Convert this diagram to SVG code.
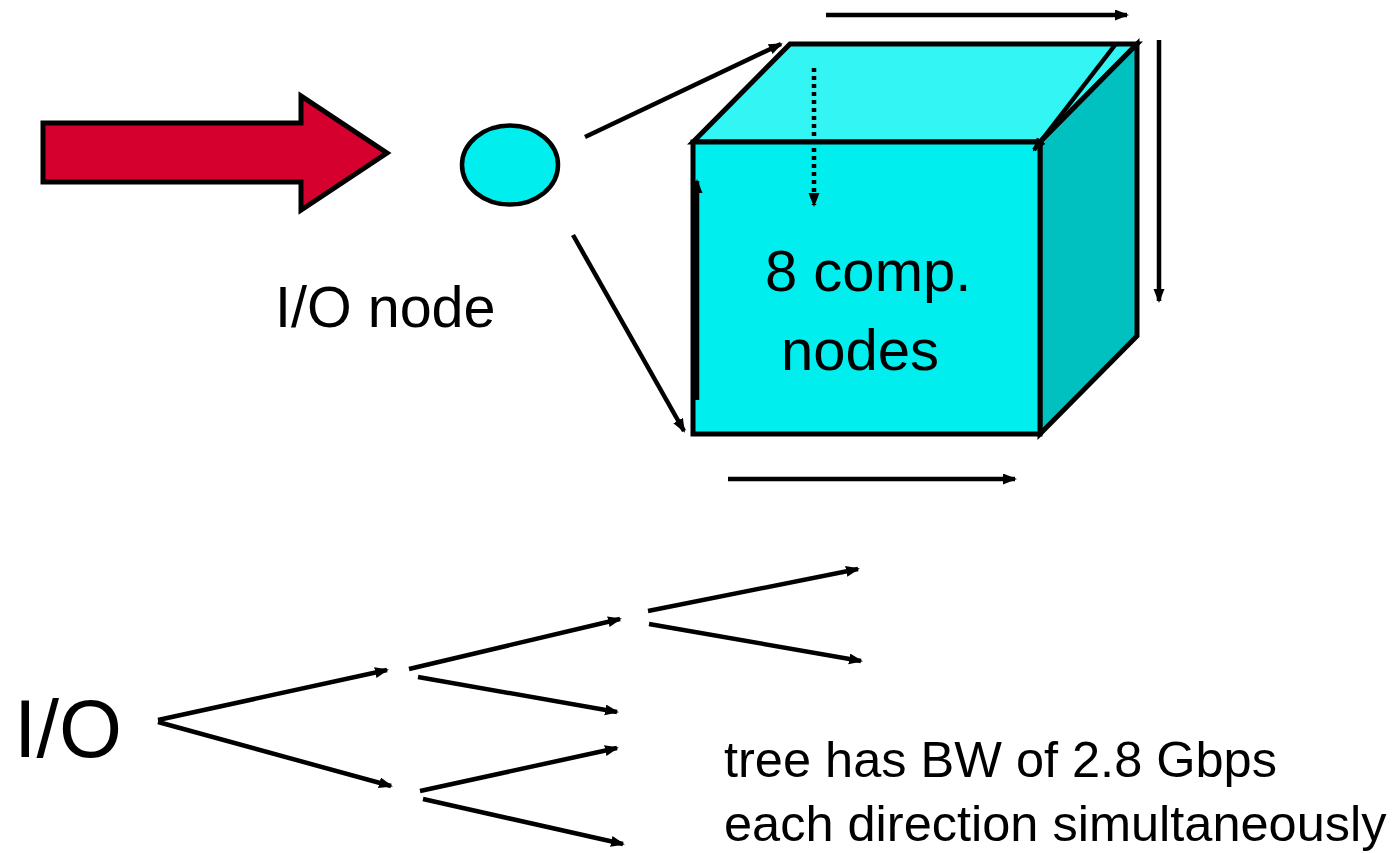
<svg xmlns="http://www.w3.org/2000/svg" width="1397" height="853" viewBox="0 0 1397 853">
<style>
  .txt { font-family: "Liberation Sans", Arial, sans-serif; fill: #000; }
  .arr { stroke: #000; stroke-width: 4.5; fill: none; marker-end: url(#ah); }
  .face { stroke: #000; stroke-width: 5; stroke-linejoin: miter; }
</style>
<defs>
  <marker id="ah" markerUnits="userSpaceOnUse" markerWidth="16" markerHeight="12" refX="12" refY="5.5" orient="auto">
    <path d="M0,0 L14,5.5 L0,11 z" fill="#000"/>
  </marker>
</defs>
<rect width="1397" height="853" fill="#fff"/>

<g id="input-arrow">
  <polygon points="43,123 301,123 301,96 387,153 301,210 301,182 43,182" fill="#D6002F" stroke="#000" stroke-width="5" stroke-linejoin="miter"/>
</g>

<g id="io-node">
  <ellipse cx="510" cy="165" rx="48" ry="39.5" fill="#00EEEE" stroke="#000" stroke-width="4.5"/>
  <text class="txt" x="275" y="327" font-size="57.5">I/O node</text>
</g>

<g id="cube">
  <polygon class="face" points="693,142 790,44 1137,44 1040,142" fill="#33F5F3"/>
  <polygon class="face" points="1040,142 1137,44 1137,336 1040,434" fill="#00C0C0"/>
  <polygon class="face" points="693,142 1040,142 1040,434 693,434" fill="#00EEEE"/>
  <text class="txt" x="765" y="291" font-size="58">8 comp.</text>
  <text class="txt" x="781" y="370" font-size="58">nodes</text>
</g>

<g id="connectors">
  <line class="arr" x1="585" y1="137" x2="781" y2="44"/>
  <line class="arr" x1="573" y1="235" x2="684" y2="431"/>
  <line class="arr" x1="826" y1="15" x2="1127" y2="15"/>
  <line class="arr" x1="1159" y1="40" x2="1159" y2="301"/>
  <line class="arr" x1="728" y1="479" x2="1015" y2="479"/>
  <line class="arr" x1="1115" y1="45" x2="1034" y2="150"/>
  <line class="arr" x1="697" y1="400" x2="697" y2="181"/>
  <line class="arr" x1="814" y1="68" x2="814" y2="205" stroke-dasharray="4 4"/>
</g>

<g id="tree">
  <line class="arr" x1="158" y1="720" x2="387" y2="670"/>
  <line class="arr" x1="158" y1="722" x2="391" y2="786"/>
  <line class="arr" x1="409" y1="669" x2="620" y2="619"/>
  <line class="arr" x1="418" y1="677" x2="617" y2="712"/>
  <line class="arr" x1="420" y1="791" x2="617" y2="748"/>
  <line class="arr" x1="423" y1="799" x2="623" y2="844"/>
  <line class="arr" x1="648" y1="611" x2="858" y2="569"/>
  <line class="arr" x1="649" y1="624" x2="861" y2="661"/>
</g>

<g id="labels">
  <text class="txt" x="14" y="757" font-size="81">I/O</text>
  <text class="txt" x="724" y="777" font-size="50.5">tree has BW of 2.8 Gbps</text>
  <text class="txt" x="724" y="841" font-size="50.5">each direction simultaneously</text>
</g>
</svg>
